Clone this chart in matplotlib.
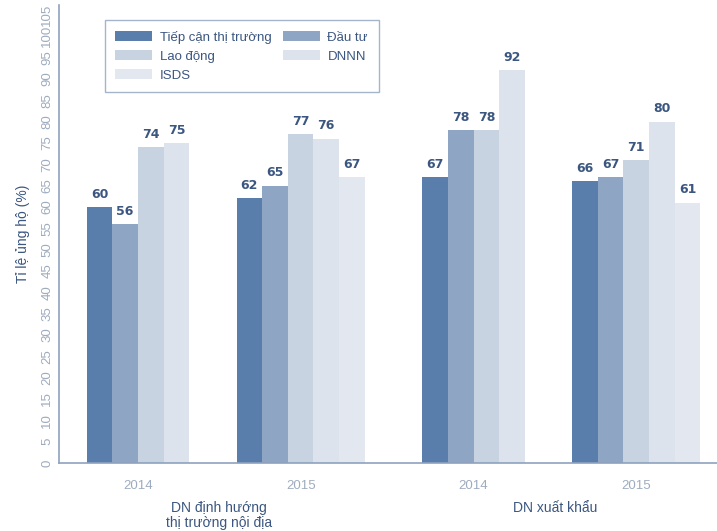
import matplotlib
matplotlib.use("Agg")
import matplotlib.pyplot as plt
from matplotlib.patches import Patch
import numpy as np

plt.rcParams['font.family'] = ['Liberation Sans', 'DejaVu Sans']

# data
series = ["Tiếp cận thị trường", "Đầu tư", "Lao động", "DNNN", "ISDS"]
groups = ["DN định hướng\nthị trường nội địa", "DN xuất khẩu"]
years = ["2014", "2015", "2014", "2015"]
vals_dom_2014 = [60, 56, 74, 75]
vals_dom_2015 = [62, 65, 77, 76, 67]
vals_exp_2014 = [67, 78, 78, 92]
vals_exp_2015 = [66, 67, 71, 80, 61]
all_vals = [vals_dom_2014, vals_dom_2015, vals_exp_2014, vals_exp_2015]

colors = ["#5a7eab", "#8ea5c4", "#c8d3e2", "#dce3ed", "#e3e8f0"]
txtcol = "#3b5680"
tickcol = "#9eacbf"
axcol = "#8ea2bf"

# left edge of each group (in bar-width units)
starts = [0, 5.85, 13.1, 18.95]

fig = plt.figure(figsize=(7.17, 5.31), dpi=100)
ax = fig.add_axes([0.082, 0.128, 0.918, 0.8625])

centers = []
for s, vals in zip(starts, all_vals):
    for i, v in enumerate(vals):
        x = s + i + 0.5
        ax.bar(x, v, width=1.0, color=colors[i], edgecolor='none')
        ax.text(x, v + 1.5, str(v), ha='center', va='bottom', fontsize=9,
                fontweight='bold', color=txtcol, family='DejaVu Sans')
    centers.append(s + len(vals) / 2)

ax.set_xlim(-1.09, 24.6)
ax.set_ylim(0, 107.3)
ax.set_yticks(np.arange(0, 106, 5))
ax.set_yticklabels([str(t) for t in range(0, 106, 5)], rotation=90, va='center')
ax.tick_params(axis='y', length=0, pad=4, labelsize=9.5, labelcolor=tickcol)
ax.set_xticks(centers)
ax.set_xticklabels(years)
ax.tick_params(axis='x', length=0, pad=12, labelsize=9.5, labelcolor=tickcol)

for side in ['top', 'right']:
    ax.spines[side].set_visible(False)
ax.spines['left'].set_color(axcol)
ax.spines['bottom'].set_color(axcol)
ax.spines['left'].set_linewidth(1.2)
ax.spines['bottom'].set_linewidth(1.2)

ax.set_ylabel("Tỉ lệ ủng hộ (%)", fontsize=10, color=txtcol, labelpad=8)

# group labels
trans = ax.get_xaxis_transform()
ax.text((centers[0] + centers[1]) / 2, -0.082, groups[0], transform=trans,
        ha='center', va='top', fontsize=10, color=txtcol, linespacing=1.15)
ax.text((centers[2] + centers[3]) / 2, -0.082, groups[1], transform=trans,
        ha='center', va='top', fontsize=10, color=txtcol)

# legend, filled row by row
order = [0, 2, 4, 1, 3]
handles = [Patch(facecolor=colors[i], edgecolor='none') for i in order]
labels = [series[i] for i in order]
leg = ax.legend(handles, labels, ncol=2, loc='upper left',
                bbox_to_anchor=(0.07, 0.967), borderaxespad=0,
                frameon=True, fancybox=False,
                fontsize=9.5, handlelength=2.8, handleheight=0.75,
                columnspacing=0.9, labelspacing=0.5, borderpad=0.8,
                handletextpad=0.55)
leg.get_frame().set_edgecolor(axcol)
leg.get_frame().set_linewidth(1.0)
for t in leg.get_texts():
    t.set_color(txtcol)

plt.savefig("out.png", dpi=100)
